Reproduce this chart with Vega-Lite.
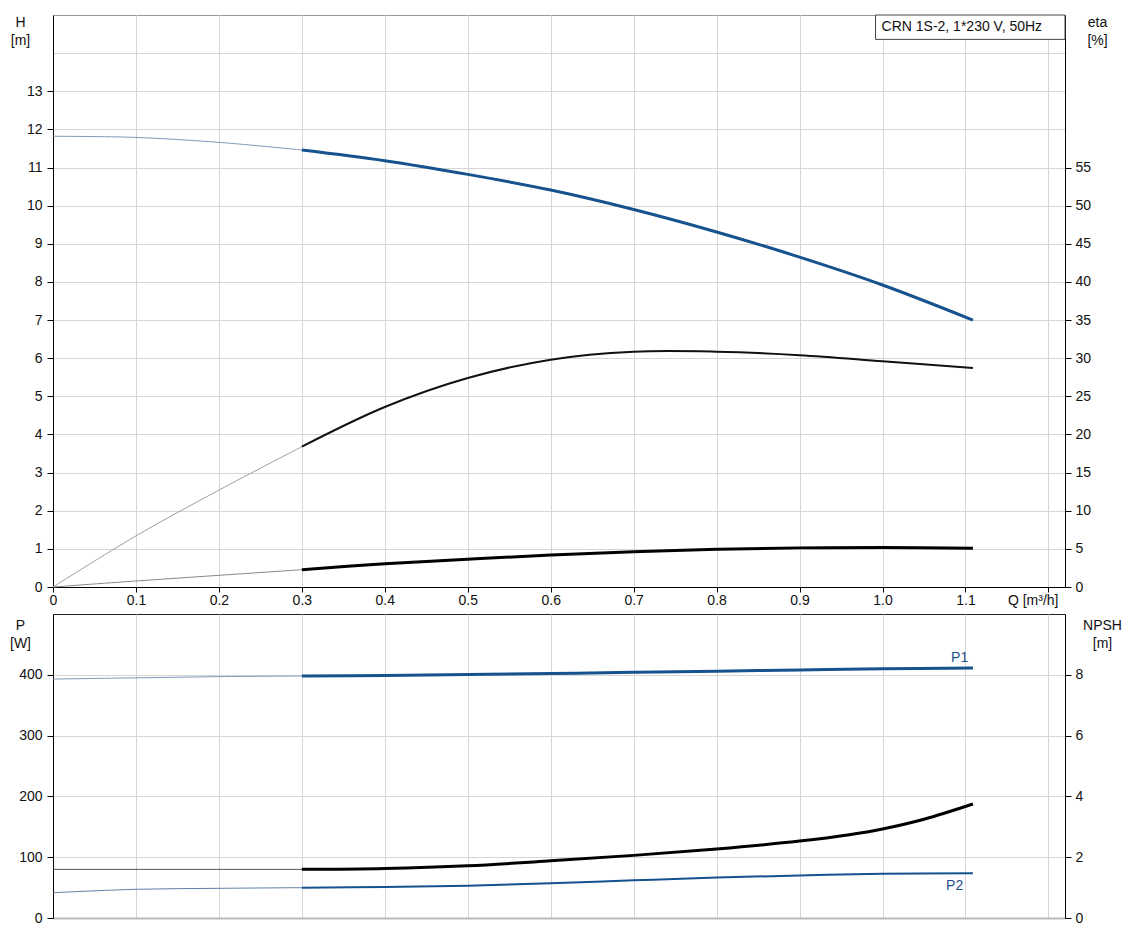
{
  "$schema": "https://vega.github.io/schema/vega-lite/v6.json",
  "padding": {"left": 9, "top": 14, "right": 0, "bottom": 0},
  "bounds": "flush",
  "spacing": 27,
  "config": {
    "font": "Liberation Sans",
    "axis": {"labelFontSize": 14, "titleFontSize": 14, "titleFontWeight": "normal", "labelColor": "#111", "titleColor": "#111", "gridColor": "#d6d6d6", "gridWidth": 1, "domainColor": "#000", "tickColor": "#000"},
    "line": {"interpolate": "catmull-rom"}
  },
  "datasets": {
    "top": [
      {"c": "H", "p": "ext", "q": 0, "v": 11.82},
      {"c": "H", "p": "ext", "q": 0.1, "v": 11.79},
      {"c": "H", "p": "ext", "q": 0.2, "v": 11.66},
      {"c": "H", "p": "ext", "q": 0.3, "v": 11.46},
      {"c": "H", "p": "main", "q": 0.3, "v": 11.46},
      {"c": "H", "p": "main", "q": 0.4, "v": 11.18},
      {"c": "H", "p": "main", "q": 0.5, "v": 10.82},
      {"c": "H", "p": "main", "q": 0.6, "v": 10.41},
      {"c": "H", "p": "main", "q": 0.7, "v": 9.9},
      {"c": "H", "p": "main", "q": 0.8, "v": 9.31},
      {"c": "H", "p": "main", "q": 0.9, "v": 8.65},
      {"c": "H", "p": "main", "q": 1.0, "v": 7.92},
      {"c": "H", "p": "main", "q": 1.109, "v": 7.0},
      {"c": "eta", "p": "ext", "q": 0, "v": 0},
      {"c": "eta", "p": "ext", "q": 0.1, "v": 6.7},
      {"c": "eta", "p": "ext", "q": 0.2, "v": 12.7},
      {"c": "eta", "p": "ext", "q": 0.3, "v": 18.4},
      {"c": "eta", "p": "main", "q": 0.3, "v": 18.4},
      {"c": "eta", "p": "main", "q": 0.4, "v": 23.6},
      {"c": "eta", "p": "main", "q": 0.5, "v": 27.4},
      {"c": "eta", "p": "main", "q": 0.6, "v": 29.8},
      {"c": "eta", "p": "main", "q": 0.7, "v": 30.84},
      {"c": "eta", "p": "main", "q": 0.8, "v": 30.85},
      {"c": "eta", "p": "main", "q": 0.9, "v": 30.4},
      {"c": "eta", "p": "main", "q": 1.0, "v": 29.6},
      {"c": "eta", "p": "main", "q": 1.109, "v": 28.7},
      {"c": "etatot", "p": "ext", "q": 0, "v": 0},
      {"c": "etatot", "p": "ext", "q": 0.1, "v": 0.79},
      {"c": "etatot", "p": "ext", "q": 0.2, "v": 1.53},
      {"c": "etatot", "p": "ext", "q": 0.3, "v": 2.27},
      {"c": "etatot", "p": "main", "q": 0.3, "v": 2.27},
      {"c": "etatot", "p": "main", "q": 0.4, "v": 3.05},
      {"c": "etatot", "p": "main", "q": 0.5, "v": 3.65},
      {"c": "etatot", "p": "main", "q": 0.6, "v": 4.19},
      {"c": "etatot", "p": "main", "q": 0.7, "v": 4.63},
      {"c": "etatot", "p": "main", "q": 0.8, "v": 4.94},
      {"c": "etatot", "p": "main", "q": 0.9, "v": 5.13},
      {"c": "etatot", "p": "main", "q": 1.0, "v": 5.18},
      {"c": "etatot", "p": "main", "q": 1.109, "v": 5.07},
      {"c": "box", "q": 0.9916, "q2": 1.22, "v": 15, "v2": 14.36, "v3": 14.68, "t": "CRN 1S-2, 1*230 V, 50Hz"}
    ],
    "bot": [
      {"c": "P1", "p": "ext", "q": 0, "v": 393},
      {"c": "P1", "p": "ext", "q": 0.1, "v": 395},
      {"c": "P1", "p": "ext", "q": 0.2, "v": 397},
      {"c": "P1", "p": "ext", "q": 0.3, "v": 398},
      {"c": "P1", "p": "main", "q": 0.3, "v": 398},
      {"c": "P1", "p": "main", "q": 0.4, "v": 399},
      {"c": "P1", "p": "main", "q": 0.5, "v": 400.5},
      {"c": "P1", "p": "main", "q": 0.6, "v": 402},
      {"c": "P1", "p": "main", "q": 0.7, "v": 404},
      {"c": "P1", "p": "main", "q": 0.8, "v": 406},
      {"c": "P1", "p": "main", "q": 0.9, "v": 408},
      {"c": "P1", "p": "main", "q": 1.0, "v": 410},
      {"c": "P1", "p": "main", "q": 1.109, "v": 411},
      {"c": "P2", "p": "ext", "q": 0, "v": 41.6},
      {"c": "P2", "p": "ext", "q": 0.1, "v": 47.2},
      {"c": "P2", "p": "ext", "q": 0.2, "v": 48.8},
      {"c": "P2", "p": "ext", "q": 0.3, "v": 49.9},
      {"c": "P2", "p": "main", "q": 0.3, "v": 49.9},
      {"c": "P2", "p": "main", "q": 0.4, "v": 51},
      {"c": "P2", "p": "main", "q": 0.5, "v": 53},
      {"c": "P2", "p": "main", "q": 0.6, "v": 57},
      {"c": "P2", "p": "main", "q": 0.7, "v": 62},
      {"c": "P2", "p": "main", "q": 0.8, "v": 66.5},
      {"c": "P2", "p": "main", "q": 0.9, "v": 70},
      {"c": "P2", "p": "main", "q": 1.0, "v": 72.6},
      {"c": "P2", "p": "main", "q": 1.109, "v": 73.5},
      {"c": "lbl", "q": 1.093, "v": 428, "t": "P1"},
      {"c": "lbl", "q": 1.087, "v": 52.7, "t": "P2"},
      {"c": "NPSH", "p": "ext", "q": 0, "v": 1.6},
      {"c": "NPSH", "p": "ext", "q": 0.3, "v": 1.6},
      {"c": "NPSH", "p": "main", "q": 0.3, "v": 1.6},
      {"c": "NPSH", "p": "main", "q": 0.4, "v": 1.63},
      {"c": "NPSH", "p": "main", "q": 0.5, "v": 1.72},
      {"c": "NPSH", "p": "main", "q": 0.6, "v": 1.88},
      {"c": "NPSH", "p": "main", "q": 0.7, "v": 2.06},
      {"c": "NPSH", "p": "main", "q": 0.8, "v": 2.27},
      {"c": "NPSH", "p": "main", "q": 0.9, "v": 2.53},
      {"c": "NPSH", "p": "main", "q": 0.96, "v": 2.74},
      {"c": "NPSH", "p": "main", "q": 1.0, "v": 2.93},
      {"c": "NPSH", "p": "main", "q": 1.05, "v": 3.25},
      {"c": "NPSH", "p": "main", "q": 1.109, "v": 3.75}
    ]
  },
  "vconcat": [
    {
      "width": 1012,
      "height": 572,
      "view": {"stroke": "#999"},
      "data": {"name": "top"},
      "encoding": {
        "x": {"field": "q", "type": "quantitative", "scale": {"domain": [0, 1.22], "nice": false, "zero": false},
          "axis": {"values": [0, 0.1, 0.2, 0.3, 0.4, 0.5, 0.6, 0.7, 0.8, 0.9, 1.0, 1.1, 1.2], "grid": true, "tickSize": 5, "labelPadding": 1,
            "labelExpr": "datum.value == 0 ? '0' : (datum.value > 1.15 ? '' : format(datum.value, '.1f'))",
            "labelFlush": false, "labelOverlap": false,
            "title": "Q [m³/h]", "titleX": 1005, "titleY": 6, "titleAlign": "right", "titleBaseline": "top", "titleAngle": 0}}
      },
      "layer": [
        {
          "encoding": {
            "y": {"field": "v", "type": "quantitative", "scale": {"domain": [0, 15], "nice": false},
              "axis": {"values": [0, 1, 2, 3, 4, 5, 6, 7, 8, 9, 10, 11, 12, 13, 14], "grid": true, "tickSize": 6, "labelPadding": 5,
                "labelExpr": "datum.value > 13 ? '' : datum.label",
                "tickColor": {"condition": {"test": "datum.value > 13", "value": "transparent"}, "value": "#000"},
                "title": ["H", "[m]"], "titleAngle": 0, "titleX": -33, "titleY": 0, "titleAlign": "center", "titleBaseline": "top", "titleLineHeight": 18}}
          },
          "layer": [
            {"transform": [{"filter": "datum.c == 'H' && datum.p == 'ext'"}], "mark": {"type": "line", "color": "#8099ba", "strokeWidth": 1}},
            {"transform": [{"filter": "datum.c == 'H' && datum.p == 'main'"}], "mark": {"type": "line", "color": "#16528e", "strokeWidth": 3}},
            {"transform": [{"filter": "datum.c == 'box'"}], "mark": {"type": "rect", "fill": "white", "stroke": "#444", "strokeWidth": 1},
              "encoding": {"x2": {"field": "q2"}, "y2": {"field": "v2"}}},
            {"transform": [{"filter": "datum.c == 'box'"}], "mark": {"type": "text", "align": "left", "baseline": "middle", "dx": 6, "fontSize": 14, "color": "#111"},
              "encoding": {"y": {"field": "v3", "type": "quantitative"}, "text": {"field": "t"}}}
          ]
        },
        {
          "encoding": {
            "y": {"field": "v", "type": "quantitative", "scale": {"domain": [0, 75], "nice": false},
              "axis": {"orient": "right", "values": [0, 5, 10, 15, 20, 25, 30, 35, 40, 45, 50, 55], "grid": false, "tickSize": 6, "labelPadding": 4,
                "title": ["eta", "[%]"], "titleAngle": 0, "titleX": 32, "titleY": 0, "titleAlign": "center", "titleBaseline": "top", "titleLineHeight": 18}}
          },
          "layer": [
            {"transform": [{"filter": "datum.c == 'eta' && datum.p == 'ext'"}], "mark": {"type": "line", "color": "#a0a0a0", "strokeWidth": 1}},
            {"transform": [{"filter": "datum.c == 'eta' && datum.p == 'main'"}], "mark": {"type": "line", "color": "#111", "strokeWidth": 2}},
            {"transform": [{"filter": "datum.c == 'etatot' && datum.p == 'ext'"}], "mark": {"type": "line", "color": "#888", "strokeWidth": 1}},
            {"transform": [{"filter": "datum.c == 'etatot' && datum.p == 'main'"}], "mark": {"type": "line", "color": "#000", "strokeWidth": 3}}
          ]
        }
      ],
      "resolve": {"scale": {"y": "independent"}}
    },
    {
      "width": 1012,
      "height": 304,
      "view": {"stroke": "#222"},
      "data": {"name": "bot"},
      "encoding": {
        "x": {"field": "q", "type": "quantitative", "scale": {"domain": [0, 1.22], "nice": false, "zero": false},
          "axis": {"values": [0, 0.1, 0.2, 0.3, 0.4, 0.5, 0.6, 0.7, 0.8, 0.9, 1.0, 1.1, 1.2], "grid": true, "labels": false, "ticks": false, "domainColor": "#bbb", "domainWidth": 2, "title": null}}
      },
      "layer": [
        {
          "encoding": {
            "y": {"field": "v", "type": "quantitative", "scale": {"domain": [0, 500], "nice": false},
              "axis": {"values": [0, 100, 200, 300, 400], "grid": true, "tickSize": 6, "labelPadding": 5,
                "title": ["P", "[W]"], "titleAngle": 0, "titleX": -33, "titleY": 4, "titleAlign": "center", "titleBaseline": "top", "titleLineHeight": 18}}
          },
          "layer": [
            {"transform": [{"filter": "datum.c == 'P1' && datum.p == 'ext'"}], "mark": {"type": "line", "color": "#8099ba", "strokeWidth": 1}},
            {"transform": [{"filter": "datum.c == 'P1' && datum.p == 'main'"}], "mark": {"type": "line", "color": "#16528e", "strokeWidth": 3}},
            {"transform": [{"filter": "datum.c == 'P2' && datum.p == 'ext'"}], "mark": {"type": "line", "color": "#5f80a8", "strokeWidth": 1}},
            {"transform": [{"filter": "datum.c == 'P2' && datum.p == 'main'"}], "mark": {"type": "line", "color": "#16528e", "strokeWidth": 2}},
            {"transform": [{"filter": "datum.c == 'lbl'"}], "mark": {"type": "text", "align": "center", "baseline": "middle", "fontSize": 14, "color": "#1d4f8a"},
              "encoding": {"text": {"field": "t"}}}
          ]
        },
        {
          "encoding": {
            "y": {"field": "v", "type": "quantitative", "scale": {"domain": [0, 10], "nice": false},
              "axis": {"orient": "right", "values": [0, 2, 4, 6, 8], "grid": false, "tickSize": 6, "labelPadding": 4,
                "title": ["NPSH", "[m]"], "titleAngle": 0, "titleX": 37, "titleY": 4, "titleAlign": "center", "titleBaseline": "top", "titleLineHeight": 18}}
          },
          "layer": [
            {"transform": [{"filter": "datum.c == 'NPSH' && datum.p == 'ext'"}], "mark": {"type": "line", "color": "#555", "strokeWidth": 1}},
            {"transform": [{"filter": "datum.c == 'NPSH' && datum.p == 'main'"}], "mark": {"type": "line", "color": "#000", "strokeWidth": 3}}
          ]
        }
      ],
      "resolve": {"scale": {"y": "independent"}}
    }
  ]
}
